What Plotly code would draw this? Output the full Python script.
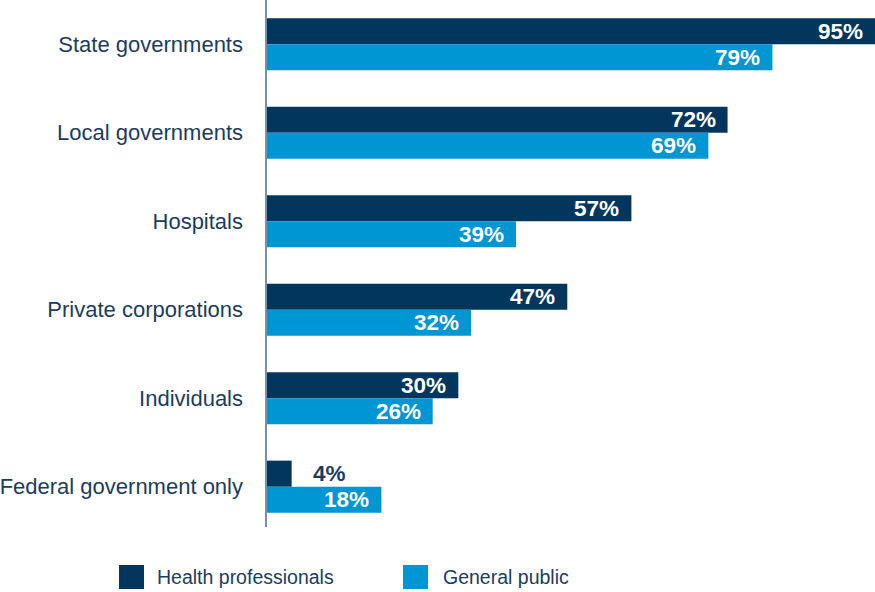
import plotly.graph_objects as go

# Survey data: share of respondents naming each responsible party
categories = ["State governments", "Local governments", "Hospitals",
              "Private corporations", "Individuals", "Federal government only"]
health_professionals = [95, 72, 57, 47, 30, 4]
general_public = [79, 69, 39, 32, 26, 18]
series_names = ["Health professionals", "General public"]

DARK = "#02365d"
LIGHT = "#0096d4"
TEXT = "#1c3c5e"
FONT = "Liberation Sans, Arial, Helvetica, sans-serif"

W, H = 875, 592
ML, MR, MT, MB = 266, 0, 0, 61
PW, PH = W - ML - MR, H - MT - MB


def px_x(p):
    return (p - ML) / PW


def px_y(p):
    return 1 - (p - MT) / PH


fig = go.Figure()
for name, vals, col in [(series_names[0], health_professionals, DARK),
                        (series_names[1], general_public, LIGHT)]:
    fig.add_trace(go.Bar(
        y=categories, x=vals, name=name, orientation="h",
        marker=dict(color=col, line=dict(width=0)),
        showlegend=False, hoverinfo="skip",
    ))

# Value labels: inside the bar end, or just past it for short bars
annotations = []
for vals, shift in [(health_professionals, 13), (general_public, -13)]:
    for cat, v in zip(categories, vals):
        inside = v >= 10
        annotations.append(dict(
            x=v, y=cat, xref="x", yref="y", text=f"{v}%", showarrow=False,
            xanchor="right" if inside else "left",
            xshift=-10 if inside else 19, yshift=shift,
            font=dict(family=FONT, size=22.5, color="white" if inside else TEXT,
                      weight="bold"),
        ))

# Legend drawn as swatches with captions below the plot
legend_items = [(series_names[0], DARK, 119, 155), (series_names[1], LIGHT, 403, 441)]
shapes = []
for name, col, sx, tx in legend_items:
    shapes.append(dict(type="rect", xref="paper", yref="paper",
                       x0=px_x(sx), x1=px_x(sx + 25), y0=px_y(565), y1=px_y(589),
                       fillcolor=col, line=dict(width=0)))
    annotations.append(dict(x=px_x(tx), y=px_y(577), xref="paper", yref="paper",
                            text=name, showarrow=False, xanchor="left", yanchor="middle",
                            font=dict(family=FONT, size=19.5, color=TEXT)))

# Vertical baseline
shapes.append(dict(type="line", xref="paper", yref="paper", x0=0, x1=0,
                   y0=px_y(527), y1=1, line=dict(color="#7890a8", width=2)))

fig.update_layout(
    width=W, height=H,
    margin=dict(l=ML, r=MR, t=MT, b=MB),
    paper_bgcolor="white", plot_bgcolor="white",
    barmode="group", bargap=0.41, bargroupgap=0,
    xaxis=dict(range=[0, 95], visible=False, fixedrange=True),
    yaxis=dict(autorange="reversed", showline=False, showgrid=False, zeroline=False,
               ticks="", ticklabelstandoff=22,
               tickfont=dict(family=FONT, size=22, color=TEXT)),
    annotations=annotations, shapes=shapes,
)

fig.write_html("out.html")
